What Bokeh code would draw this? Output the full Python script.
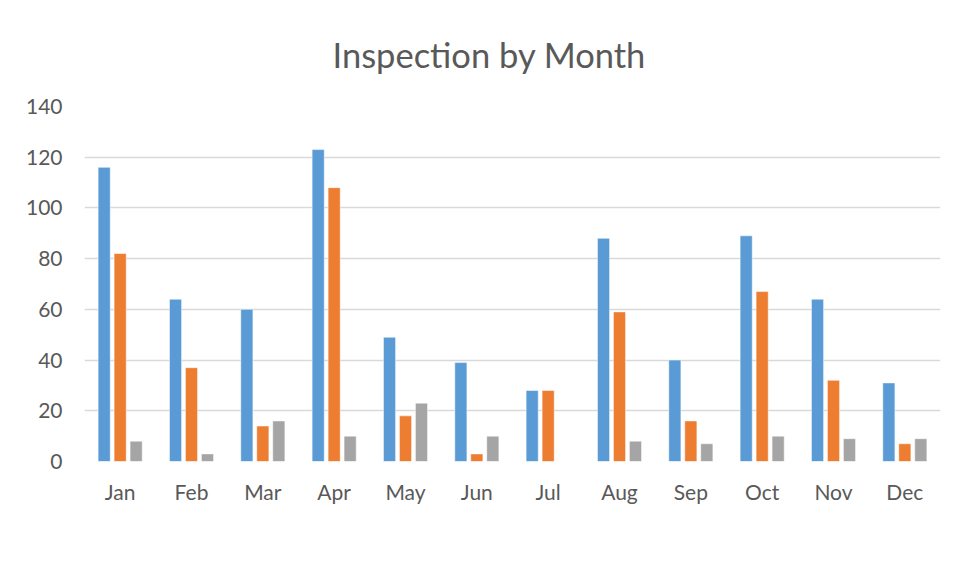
from bokeh.plotting import figure
from bokeh.models import ColumnDataSource, FactorRange, Range1d, SingleIntervalTicker, Legend, LegendItem, Title
from bokeh.transform import dodge
from bokeh.embed import file_html
from bokeh.resources import INLINE

months = ["Jan", "Feb", "Mar", "Apr", "May", "Jun", "Jul", "Aug", "Sep", "Oct", "Nov", "Dec"]
initial = [116, 64, 60, 123, 49, 39, 28, 88, 40, 89, 64, 31]
first = [82, 37, 14, 108, 18, 3, 28, 59, 16, 67, 32, 7]
multiple = [8, 3, 16, 10, 23, 10, 0, 8, 7, 10, 9, 9]
series_names = ["Intial Inspection", "First Reinspection", "Multiple Reinspection"]
colors = ["#5B9BD5", "#ED7D31", "#A5A5A5"]

FONT = "Lato"
TXT = "#595959"

src = ColumnDataSource(dict(months=months, initial=initial, first=first, multiple=multiple))

p = figure(x_range=FactorRange(*months), y_range=Range1d(0, 140),
           frame_width=856, frame_height=355, output_backend="svg", toolbar_location=None,
           min_border_left=84, min_border_right=13, min_border_top=106, min_border_bottom=100)

p.title = Title(text="Inspection by Month", text_font=FONT, text_font_size="34.5px",
                text_font_style="normal", text_color=TXT, align="left", offset=248, standoff=63)

renderers = []
for col, off, c in zip(["initial", "first", "multiple"], [-0.224, 0.0, 0.224], colors):
    r = p.vbar(x=dodge("months", off, range=p.x_range), top=col, width=0.17, source=src,
               fill_color=c, line_color="white", line_width=0.5)
    renderers.append(r)

p.outline_line_color = None
p.xgrid.grid_line_color = None
p.ygrid.grid_line_color = "#D9D9D9"
p.ygrid.grid_line_width = 1.3

p.yaxis.ticker = SingleIntervalTicker(interval=20)
for ax in (p.xaxis[0], p.yaxis[0]):
    ax.axis_line_color = None
    ax.major_tick_line_color = None
    ax.minor_tick_line_color = None
    ax.major_label_text_font = FONT
    ax.major_label_text_font_size = "21px"
    ax.major_label_text_color = TXT
p.yaxis.major_label_standoff = 16
p.xaxis.major_label_standoff = 11
p.xaxis.axis_label = " "
p.xaxis.axis_label_text_font_size = "2px"
p.xaxis.axis_label_standoff = 30

legend = Legend(items=[LegendItem(label=n, renderers=[r]) for n, r in zip(series_names, renderers)],
                orientation="horizontal", location="top_center", border_line_color=None,
                background_fill_alpha=0,
                label_text_font=FONT, label_text_font_size="21px", label_text_color=TXT,
                glyph_width=13, glyph_height=13, label_standoff=6, spacing=40,
                margin=0, padding=0)
p.add_layout(legend, "below")

open("out.html", "w").write(file_html(p, INLINE))
